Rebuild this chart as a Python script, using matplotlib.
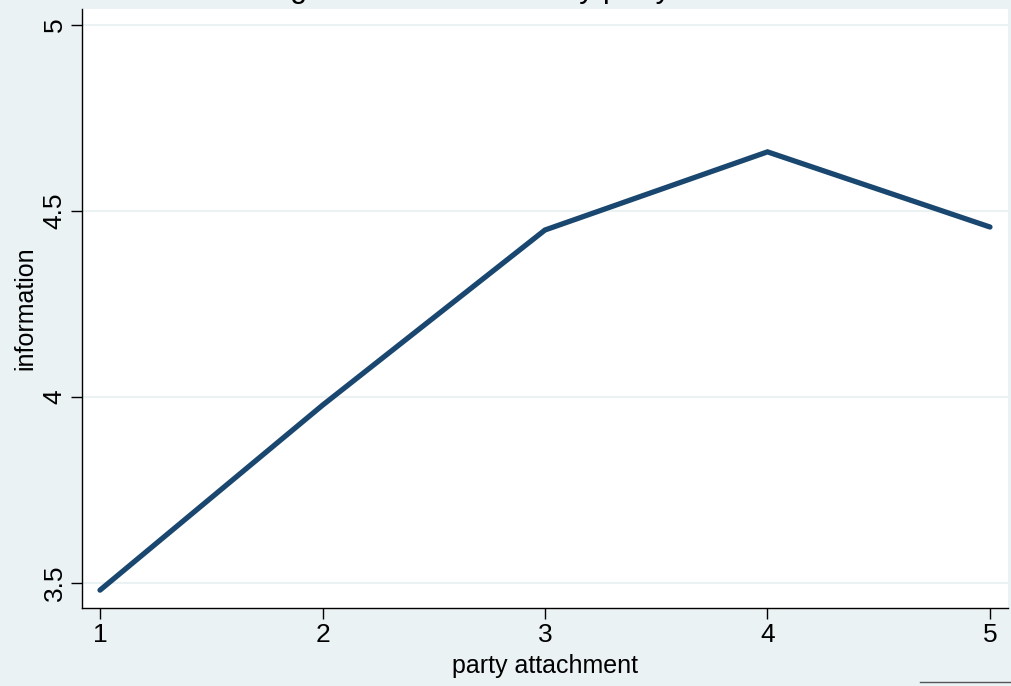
import matplotlib
matplotlib.use("Agg")
import matplotlib.pyplot as plt
from matplotlib.lines import Line2D

# mean information by party attachment
attachment = [1, 2, 3, 4, 5]
information = [3.481, 3.978, 4.449, 4.659, 4.457]
y_ticks = [3.5, 4, 4.5, 5]
y_tick_labels = ["3.5", "4", "4.5", "5"]

BG = "#eaf2f3"
NAVY = "#1a476f"

plt.rcParams['font.family'] = ['Liberation Sans', 'DejaVu Sans']

fig = plt.figure(figsize=(10.12, 6.86), dpi=100)
fig.patch.set_facecolor(BG)
ax = fig.add_axes([82/1012, 1-608/686, 926/1012, 599/686])
ax.set_facecolor('white')

for y in y_ticks:
    ax.axhline(y, color=BG, linewidth=1.5, zorder=1)

ax.plot(attachment, information, '-', color=NAVY, linewidth=3.8,
        solid_capstyle='round', solid_joinstyle='miter', zorder=3)

ax.set_xlim(0.919, 5.081)
ax.set_ylim(3.433, 5.043)
ax.set_xticks(attachment)
ax.set_xticklabels([str(x) for x in attachment], fontsize=19)
ax.set_yticks(y_ticks)
ax.set_yticklabels(y_tick_labels, fontsize=19, rotation=90, va='center')
ax.tick_params(axis='both', length=8, width=1, color='black', pad=3)

for s in ['top', 'right']:
    ax.spines[s].set_visible(False)
for s in ['left', 'bottom']:
    ax.spines[s].set_color('black')
    ax.spines[s].set_linewidth(1)

ax.set_xlabel("party attachment", fontsize=18, labelpad=5)
ax.set_ylabel("information", fontsize=18, labelpad=4)

# title sits mostly above the figure edge, as in the original export
fig.text(0.515, 1.004, "Average information level by party attachment",
         fontsize=22, ha='center', va='baseline')

fig.add_artist(Line2D([920/1012, 1.0], [1-682/686, 1-682/686],
                      transform=fig.transFigure, color='#555555', linewidth=1))

fig.savefig("out.png", dpi=100, facecolor=BG)
